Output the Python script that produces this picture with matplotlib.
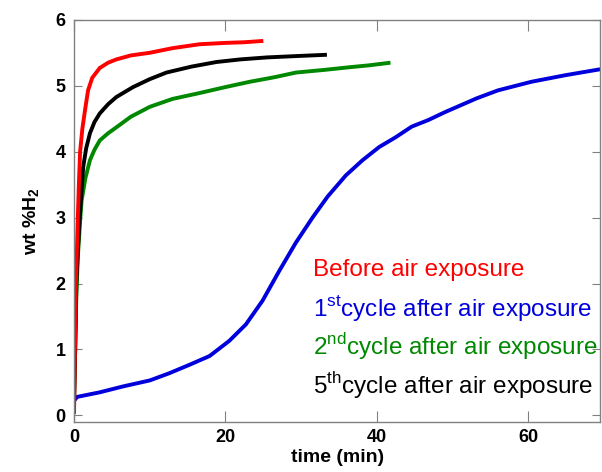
import matplotlib.pyplot as plt

plt.rcParams['font.family'] = ['Liberation Sans', 'DejaVu Sans']
plt.rcParams['mathtext.fontset'] = 'custom'
plt.rcParams['mathtext.rm'] = 'Liberation Sans'
plt.rcParams['mathtext.bf'] = 'Liberation Sans:bold'

# hydrogen uptake (wt %) vs time (min)
t_before = [0, 0.1, 0.25, 0.4, 0.5, 0.65, 0.8, 1.1, 1.45, 1.85, 2.4, 3.4, 4.5,
            5.6, 7.5, 10, 13, 16.6, 20, 22.5, 25]
wt_before = [0.02, 0.9, 2.0, 2.6, 3.0, 3.55, 4.0, 4.35, 4.63, 4.93, 5.12, 5.27,
             5.35, 5.4, 5.46, 5.5, 5.57, 5.63, 5.65, 5.66, 5.68]

t_cycle1 = [0, 0.4, 3.4, 6.5, 10, 12.6, 15.3, 17.9, 20.5, 22.7, 24.9, 27.1,
            29.3, 31.5, 33.5, 35.9, 38.1, 40.3, 42.5, 44.6, 46.8, 49.0, 51.2,
            53.2, 56, 60.4, 64.9, 69.5]
wt_cycle1 = [0.22, 0.28, 0.35, 0.44, 0.53, 0.64, 0.77, 0.9, 1.13, 1.38, 1.74,
             2.19, 2.62, 3.0, 3.32, 3.64, 3.87, 4.07, 4.22, 4.38, 4.48, 4.6,
             4.71, 4.81, 4.93, 5.06, 5.16, 5.25]

t_cycle2 = [0, 0.15, 0.3, 0.5, 0.8, 1.0, 1.5, 2.1, 2.7, 3.4, 4.5, 5.6, 7.5, 10,
            13, 16.6, 20, 23.2, 26.5, 29.3, 33, 36.3, 39, 41.8]
wt_cycle2 = [0.25, 1.0, 1.8, 2.4, 2.95, 3.26, 3.6, 3.87, 4.03, 4.17, 4.28, 4.37,
             4.53, 4.68, 4.8, 4.89, 4.98, 5.06, 5.13, 5.2, 5.24, 5.28, 5.31, 5.35]

t_cycle5 = [0, 0.15, 0.3, 0.5, 0.75, 1.2, 1.6, 2.1, 2.7, 3.4, 4.5, 5.6, 7.8, 10,
            12.2, 15.5, 18.8, 22, 25.5, 29.3, 33.4]
wt_cycle5 = [0.2, 1.0, 2.0, 2.5, 3.0, 3.76, 4.05, 4.28, 4.45, 4.58, 4.72, 4.83,
             4.98, 5.1, 5.2, 5.29, 5.36, 5.4, 5.43, 5.45, 5.47]

labels = ['Before air exposure',
          r'1$^{\mathrm{st}}$cycle after air exposure',
          r'2$^{\mathrm{nd}}$cycle after air exposure',
          r'5$^{\mathrm{th}}$cycle after air exposure']
colors = ['#ff0000', '#0000dd', '#008800', '#000000']

fig = plt.figure(figsize=(6.02, 4.72), dpi=100)
ax = fig.add_axes([0.123, 0.106, 0.874, 0.852])

ax.plot(t_cycle1, wt_cycle1, color=colors[1], lw=2.8, solid_capstyle='butt')
ax.plot(t_cycle2, wt_cycle2, color=colors[2], lw=2.8, solid_capstyle='butt')
ax.plot(t_cycle5, wt_cycle5, color=colors[3], lw=2.8, solid_capstyle='butt')
ax.plot(t_before, wt_before, color=colors[0], lw=2.8, solid_capstyle='butt')

ax.set_xlim(0, 69.5)
ax.set_ylim(-0.1, 6)
ax.set_xticks([0, 20, 40, 60])
ax.set_yticks([0, 1, 2, 3, 4, 5, 6])

for s in ax.spines.values():
    s.set_color('#808080')
    s.set_linewidth(1.0)
ax.tick_params(axis='both', direction='in', colors='#808080', top=True,
               right=True, labelsize=13, labelcolor='black')
ax.tick_params(axis='x', length=8, pad=5)
ax.tick_params(axis='y', length=6, pad=6)
for lbl in ax.get_xticklabels() + ax.get_yticklabels():
    lbl.set_fontweight('bold')

ax.set_xlabel('time (min)', fontsize=14, fontweight='bold', labelpad=2)
ax.set_ylabel(r'wt %H$_\mathbf{2}$', fontsize=14, fontweight='bold', labelpad=10)

# coloured legend text
for i, (lab, c) in enumerate(zip(labels, colors)):
    ax.text(0.454, 0.378 - i * 0.0955, lab, color=c, fontsize=17.5,
            transform=ax.transAxes, va='center', ha='left')

fig.savefig('out.png', dpi=100)
